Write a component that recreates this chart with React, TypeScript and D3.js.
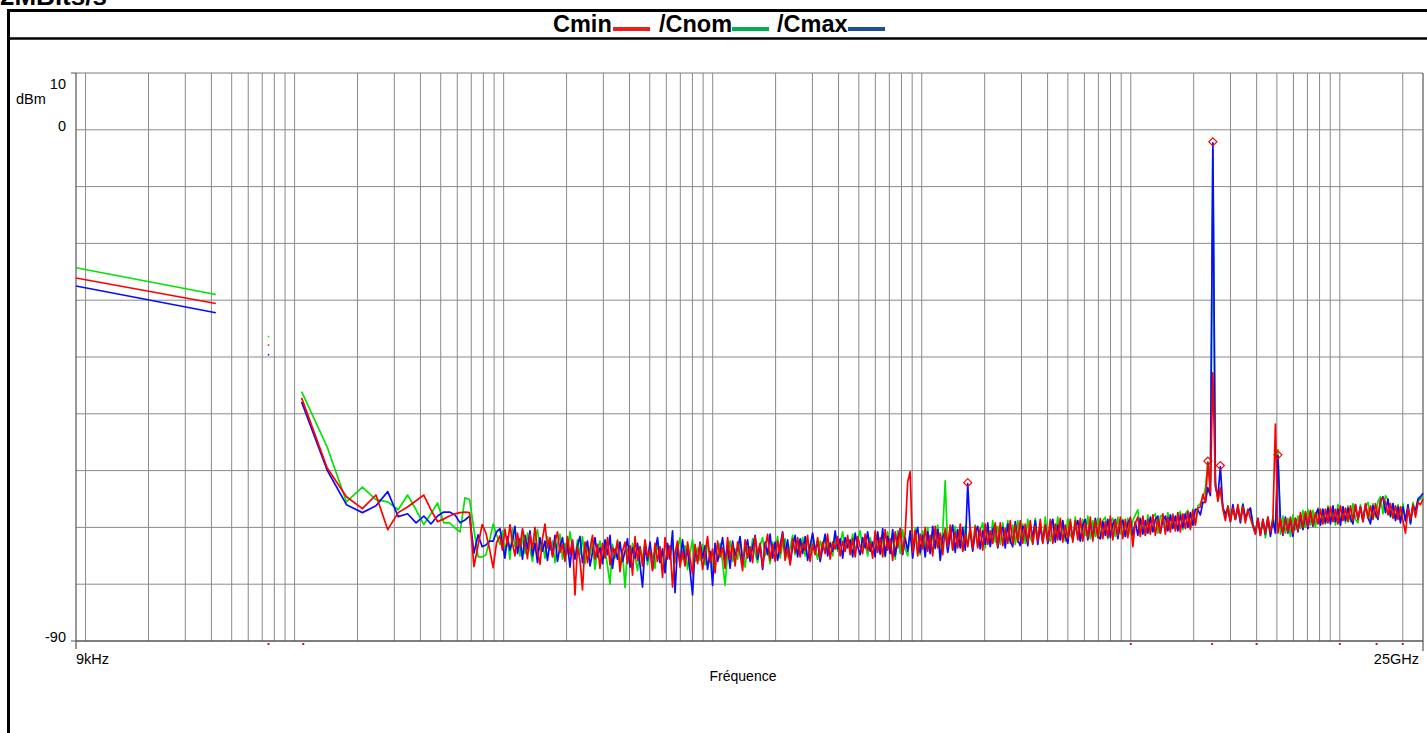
import React from 'react';
import * as d3 from 'd3';

// ---------- DATA ----------
const TITLE_PARTS = ['Cmin', '/Cnom', '/Cmax'];
const CORNER_TEXT = '2MBits/s';
const Y_TICK_LABELS = [10, 0, -90];
const Y_GRID_LEVELS = [0, -10, -20, -30, -40, -50, -60, -70, -80];
const X_START_LABEL = '9kHz';
const X_END_LABEL = '25GHz';
const X_TITLE = 'Fréquence';
const Y_UNIT = 'dBm';
const F_MIN = 9e3;
const F_MAX = 25e9;

// low band (two-point segments)
const LOW_FREQS = [9e3, 42e3];
const LOW_RED = [-26.1, -30.6];
const LOW_GREEN = [-24.3, -29.0];
const LOW_BLUE = [-27.5, -32.2];

// isolated dots
const DOT_FREQ = 75e3;
const DOT_RED = -37.9;
const DOT_GREEN = -36.4;
const DOT_BLUE = -39.6;

// sweep A (kHz)
const SWEEP_A_KHZ = [108, 143, 177, 211, 245, 279, 313, 347, 381, 415, 449, 483, 517, 551, 585, 619, 653, 687, 721, 755, 789, 823, 857, 891, 925];
const A_RED = [-47.2, -59.5, -64.6, -66.7, -64.3, -70.4, -67.4, -66.4, -65.3, -64.3, -66.9, -69.0, -68.5, -68.0, -67.6, -67.4, -67.3, -67.4, -76.9, -73.1, -69.5, -71.0, -73.9, -77.1, -72.7];
const A_GREEN = [-46.1, -55.8, -65.5, -62.9, -65.1, -65.5, -66.9, -64.3, -66.9, -69.5, -67.6, -65.7, -69.2, -69.2, -70.1, -70.8, -64.8, -65.1, -70.4, -75.2, -75.2, -74.8, -72.2, -69.4, -71.3];
const A_BLUE = [-47.9, -59.9, -66.0, -67.4, -66.2, -63.7, -68.1, -67.6, -69.2, -68.0, -69.4, -68.0, -67.3, -67.3, -67.8, -69.2, -68.7, -68.0, -74.5, -71.3, -73.4, -73.1, -72.4, -72.4, -70.8];

// sweep B (log-spaced analyzer points from 960 kHz to 25 GHz)
const SWEEP_B_START = 960e3;
const SWEEP_B_STOP = 25e9;
const B_RED = [
  -71.5, -74, -70.3, -73.2, -69.5, -72.8, -75, -71, -73.5, -70.2,
  -72.4, -75.5, -71.2, -73.8, -70, -74.2, -76.5, -72, -69.4, -73.6,
  -71.8, -75.2, -72.6, -70.8, -74.4, -73, -76, -71.6, -74.8, -72.2,
  -81.9, -73.4, -75.8, -81, -72.6, -76.2, -73.8, -71.4, -75.6, -73,
  -77.2, -72.8, -75.4, -71.8, -76.6, -73.6, -74.8, -72.4, -77.8, -74.2,
  -72.6, -76.4, -73.2, -78.4, -71.6, -75.8, -73.4, -76.8, -72.2, -75.2,
  -74, -77.6, -72.8, -76, -73.4, -78.8, -71.8, -75.6, -73.2, -80.5,
  -74.6, -72.4, -77, -74.2, -76.8, -72.6, -75.4, -78.2, -73, -76.4,
  -72.8, -77.4, -74.6, -71.6, -76.2, -73.8, -78, -72.4, -75.2, -73.6,
  -77.2, -71.8, -75.6, -73, -76.8, -72.6, -74.8, -77.6, -72.2, -75.4,
  -73.4, -76.2, -71.6, -74.8, -72.8, -77, -73.6, -71.2, -75.8, -73,
  -76, -72.4, -74.6, -71, -75.8, -73.6, -76.6, -72, -74.4, -71.8,
  -75.2, -72.8, -74, -71.4, -76, -73, -74.8, -71.8, -75.4, -72.6,
  -74.6, -71.2, -75.6, -72.6, -73.8, -71.6, -75, -72.4, -74.2, -71.4,
  -74.8, -72, -75.2, -71.6, -73.4, -74.6, -71.2, -74, -72.6, -75.4,
  -70.6, -74.4, -71.8, -75.2, -70.4, -74, -72, -75.8, -70.8, -73.6,
  -70.2, -74.6, -71, -62, -60.2, -74.4, -70.6, -75, -71.2, -73.8,
  -70, -74.2, -71.4, -75, -69.8, -73.6, -71, -74.8, -70.2, -73.4,
  -69.6, -74, -70.8, -73.6, -69.4, -74.2, -71.2, -73.4, -69.8, -73.8,
  -69.8, -73.6, -70.2, -74, -69.4, -73, -70.6, -72.8, -69.2, -73.4,
  -69.2, -73.2, -70.2, -72.8, -68.8, -73, -69.6, -72.6, -68.8, -72.8,
  -69.4, -72.6, -68.8, -73, -69.8, -72.4, -68.6, -72.8, -69.6, -72.4,
  -68.6, -72.8, -69.4, -72.2, -68.4, -72.6, -69.6, -72, -68.6, -72.6,
  -68.8, -72.2, -68.4, -72.4, -69.2, -71.8, -68.2, -72.4, -68.8, -71.8,
  -68.4, -72, -69, -71.8, -68, -72.2, -68.8, -71.4, -68.2, -72,
  -68.6, -71.8, -68.2, -73.4, -69.2, -68.2, -71.6, -68, -71.4, -68.6,
  -71.2, -67.8, -71.4, -68.4, -71, -67.6, -71.2, -68.2, -70.8, -67.8,
  -70.6, -67.4, -70.8, -67.6, -70.2, -67.2, -70.4, -67, -69.6, -66.6,
  -66.4, -64.2, -65.6, -58.5, -63.8, -42.8, -62, -65.4, -63, -66.8,
  -68.8, -66.2, -69, -66.6, -68.6, -66, -68.8, -66.4, -69.2, -66.8,
  -68.4, -69.8, -71.2, -68.4, -71.4, -68.6, -71, -68.2, -70.8, -68.6,
  -51.8, -71, -68.4, -71.2, -68.6, -70.8, -68.2, -71, -68.4, -70.6,
  -67.4, -70, -67.2, -69.8, -67, -69.6, -67.4, -69.4, -66.8, -69.4,
  -66.8, -69.2, -66.4, -69, -66.8, -69.4, -66.2, -68.8, -66.6, -69,
  -66.2, -68.8, -66, -68.6, -66.4, -69, -65.8, -68.4, -66.2, -68.6,
  -65.8, -68.2, -65.2, -64.8, -65.6, -67.8, -65.8, -68.4, -66.2, -68.6,
  -66.4, -68.8, -71, -66.6, -68.6, -66, -68.2, -65.6, -66, -65,
];
const B_GREEN = [
  -73, -70.6, -74.4, -71.8, -75.6, -70.2, -73.4, -72, -75, -71.4,
  -74.6, -71, -73.8, -76, -72.2, -70.4, -74, -72.6, -75.4, -71.6,
  -74, -72.4, -76.2, -73, -71.2, -75.6, -72.8, -74.6, -70.8, -73.8,
  -75.4, -72.2, -74.8, -71.6, -76.4, -73.2, -75, -72.6, -77.4, -74,
  -72.4, -75.8, -73.6, -76.8, -80, -73, -75.4, -72.2, -76.2, -74.4,
  -80.6, -73.8, -76.4, -72.8, -75.2, -77.6, -73.4, -75.8, -72.6, -76.6,
  -73.6, -75, -77.2, -72.4, -76, -74.2, -77.8, -73, -75.4, -72.8,
  -76.2, -74, -71.8, -75.6, -73.2, -77.4, -74.4, -72.2, -76, -73.6,
  -75.8, -73, -76.6, -72.6, -74.8, -77, -73.4, -75.6, -72.8, -76.2,
  -80.2, -74.6, -72.4, -76, -73.8, -75.6, -72.2, -74.8, -77, -73.4,
  -75.6, -72, -74.4, -76.2, -73.2, -71.8, -75, -73.8, -76.4, -72.6,
  -74.2, -71.6, -75.4, -73, -72, -75.2, -73.6, -71.4, -74.8, -72.8,
  -73.8, -71.8, -75, -72.2, -74.4, -71.2, -73.6, -75.6, -72.4, -74,
  -71.4, -73.8, -72.6, -75, -71.8, -74.2, -72.8, -70.8, -74, -72.4,
  -73.6, -71.2, -74.4, -72.2, -70.6, -73.8, -72.8, -75, -71.8, -73.4,
  -74.4, -71, -74.8, -71.6, -75.2, -70.8, -74, -71.4, -75.6, -70.6,
  -74.6, -70.4, -73.8, -75, -70.8, -74.2, -70.2, -73.6, -74.8, -70.6,
  -73.8, -70, -74.4, -71, -73.8, -69.6, -74, -70.8, -61.8, -73.6,
  -70.4, -74, -69.8, -73.4, -70.6, -74.2, -69.8, -73.2, -70.2, -73.8,
  -69.6, -73.4, -70.4, -69.2, -73.6, -70, -73.2, -68.8, -72.6, -69.8,
  -73, -69.2, -72.6, -68.8, -72.8, -69.6, -73, -68.8, -72.2, -69.4,
  -72.8, -68.6, -71.8, -72.8, -68.4, -72.2, -69.2, -72.6, -68.2, -71.8,
  -72.4, -68.6, -71.8, -68.2, -72.2, -69, -72.4, -68.4, -71.4, -72,
  -68.2, -71.6, -72.2, -68.6, -71.4, -68, -72, -68.8, -71.6, -68.4,
  -71.8, -68.8, -68.2, -72, -69, -68.4, -71.6, -68.2, -71.2, -68.6,
  -71.6, -68.4, -71.2, -68.8, -67.8, -66.9, -71, -68.2, -71.4, -67.8,
  -70.8, -68.2, -67.6, -71, -68, -67.8, -70.6, -67.4, -70.4, -67.6,
  -70.2, -67.8, -67.2, -70.4, -67.6, -67, -70, -66.8, -69.4, -66.2,
  -65.8, -64.8, -63.2, -58.5, -61.8, -3.5, -62.4, -64.8, -63.6, -66.4,
  -68.2, -66.2, -68, -66.6, -68.6, -66.4, -68.4, -65.8, -68.6, -67,
  -66.6, -69.4, -70.6, -68.6, -71, -69, -71.8, -68.6, -71.2, -68,
  -70.6, -56.3, -71.2, -68, -71, -68.4, -71.6, -67.8, -70.4, -68,
  -70.2, -67, -70, -66.8, -69.6, -67, -70, -66.6, -69.4, -66.8,
  -69.4, -66.2, -69, -66.6, -69.6, -66, -68.8, -66.4, -69.2, -66.2,
  -69, -65.8, -68.6, -69.2, -66, -68.8, -66.2, -65.6, -68.8, -65.8,
  -68.2, -65.4, -64.6, -67.6, -64.4, -65.2, -68.2, -65.8, -68.6, -66,
  -68.4, -65.8, -69, -66.4, -69.2, -65.6, -67.8, -65.4, -65, -64.6,
];
const B_BLUE = [
  -70.2, -72.8, -75.4, -71.6, -74, -72.4, -69.8, -74.6, -72, -75.6,
  -71.4, -73.8, -70.6, -75, -72.8, -76.2, -71.8, -74.2, -72.4, -75.8,
  -72.6, -74.8, -71.4, -76, -73.4, -71.8, -75.4, -73, -77, -72.4,
  -75.6, -73.2, -71.6, -76.2, -74, -72.4, -76.8, -74.4, -71.8, -75.2,
  -73.6, -76.4, -72.2, -74.8, -71.4, -77.2, -73.8, -75.6, -72.6, -76,
  -74.2, -72, -77, -73.6, -75.4, -72.8, -76.6, -80.5, -73.4, -75.8,
  -72.6, -77.4, -74, -71.8, -76.2, -73.8, -78, -72.8, -75.6, -70.6,
  -81.5, -73.2, -76.4, -72.2, -75.8, -74, -77.6, -81.9, -73.6, -76,
  -72.6, -75.4, -73.2, -77.4, -74.2, -80.2, -72.8, -76, -74.4, -71.8,
  -75.8, -73.4, -77.2, -72.4, -75, -73.8, -71.6, -76.4, -74, -72.2,
  -76, -73.4, -71.4, -75.6, -73, -77.4, -72.6, -74.8, -71.2, -75.4,
  -72.6, -75.8, -73.2, -70.8, -74.6, -72.2, -76.4, -73.4, -71.4, -75.2,
  -72, -74.6, -71.6, -75.8, -73.2, -71, -74.4, -72.4, -76, -73.6,
  -71.2, -75, -72.8, -74.2, -70.6, -73.8, -72, -75.4, -71.8, -73.6,
  -72.2, -75.2, -71, -73.4, -74.8, -71.8, -73.6, -70.8, -74.2, -72.6,
  -75.2, -70.8, -74.6, -70.2, -75, -71.6, -74.6, -70.4, -75, -72,
  -70.2, -74.8, -71.8, -74.2, -70.6, -75.4, -71.6, -70, -74.4, -71.4,
  -75.2, -70.8, -74.6, -69.8, -73.6, -70.4, -75.8, -71.8, -70.6, -74.4,
  -71.6, -69.6, -74.4, -70.4, -73.6, -70, -74, -62.3, -70.8, -74.2,
  -71, -69.8, -73.8, -70.6, -73, -69.2, -73.4, -70.4, -69.6, -73.6,
  -70.4, -70, -73.6, -69.4, -72.4, -73.4, -69, -72.2, -73.2, -69.8,
  -70.4, -73.2, -69.4, -71.8, -68.8, -73, -69.8, -72.6, -69.6, -72.8,
  -69.8, -68.6, -72.6, -69.6, -72.2, -68.8, -71.6, -72.8, -69, -72,
  -70, -68.8, -72.4, -69.6, -68.6, -72.2, -69.2, -71.8, -68.4, -71.6,
  -72, -69, -71.4, -68.6, -71.8, -69.4, -68.6, -72, -69.2, -68.8,
  -71.6, -69.2, -68.4, -71.4, -69, -71.4, -68.4, -71.2, -68.8, -71,
  -68.2, -70.8, -68.6, -68, -71, -68.8, -68, -70.6, -67.8, -70.2,
  -68, -70.6, -67.8, -70, -67.6, -70, -67.4, -69.6, -66.8, -66.9,
  -67.8, -65.6, -65.6, -63, -64.4, -2.3, -62.8, -64.6, -59.3, -66.6,
  -67.6, -66.8, -69, -66, -68.6, -66.4, -69.2, -66, -68.4, -67.4,
  -66.6, -69.6, -71, -68.4, -71.4, -68.6, -71.2, -68.2, -71.6, -68.8,
  -71, -57.4, -68.8, -71.4, -68.2, -71, -68.6, -71.6, -68.4, -70.8,
  -68, -70.4, -67.6, -70.2, -67.2, -69.8, -67.8, -66.8, -69.6, -66.8,
  -69.2, -66.6, -69.4, -66.2, -69, -66.8, -69.6, -66.4, -68.8, -66.6,
  -68.4, -69.4, -66, -68.6, -66.4, -69, -66, -68.2, -69.4, -66.2,
  -67.6, -68.6, -65.4, -64.6, -67.4, -65, -68, -65.8, -68.8, -66.4,
  -69.2, -66.4, -68.8, -66, -69.4, -66.2, -67, -65, -64.6, -64,
];

// peak markers: series + sample index within sweep B
const MARKERS: { series: 'red' | 'green' | 'blue'; idx: number }[] = [
  { series: 'blue', idx: 187 },
  { series: 'green', idx: 283 },
  { series: 'blue', idx: 285 },
  { series: 'blue', idx: 288 },
  { series: 'blue', idx: 311 },
];

// band-boundary marks under the axis (Hz)
const BAND_MARKS_HZ = [75e3, 110e3, 1e9, 2.45e9, 4e9, 10e9, 15e9, 20e9];

// ---------- STYLE ----------
const COLORS = { red: '#ff0000', green: '#00e400', blue: '#0a0aff' };
const LEGEND_COLORS = ['#f21c1c', '#00b050', '#1f4e8c'];
const PLOT = { left: 76, right: 1423, top: 73, bottom: 641 };
const FONT = 'Arial, "Liberation Sans", Helvetica, sans-serif';

export default function App() {
  const x = d3.scaleLog().domain([F_MIN, F_MAX]).range([PLOT.left, PLOT.right]);
  const y = d3.scaleLinear().domain([-90, 10]).range([PLOT.bottom, PLOT.top]);

  const nB = B_RED.length;
  const sweepB = d3.range(nB).map((i) => SWEEP_B_START * Math.pow(SWEEP_B_STOP / SWEEP_B_START, i / (nB - 1)));
  const sweepA = SWEEP_A_KHZ.map((k) => k * 1e3);

  const line = d3
    .line<[number, number]>()
    .x((d) => x(d[0]))
    .y((d) => y(d[1]));

  const series = {
    green: { low: LOW_GREEN, dot: DOT_GREEN, a: A_GREEN, b: B_GREEN },
    blue: { low: LOW_BLUE, dot: DOT_BLUE, a: A_BLUE, b: B_BLUE },
    red: { low: LOW_RED, dot: DOT_RED, a: A_RED, b: B_RED },
  } as const;
  const order: ('green' | 'blue' | 'red')[] = ['green', 'blue', 'red'];

  // gridlines
  const vGrid: number[] = [];
  for (let p = 3; p <= 10; p++) {
    for (let k = 1; k <= 9; k++) {
      const f = k * Math.pow(10, p);
      if (f > F_MIN * 1.0001 && f < F_MAX * 0.9999) vGrid.push(f);
    }
  }

  // title layout
  const titleX = [553, 659, 777];
  const legendSeg = [
    [613, 650],
    [732, 769],
    [848, 885],
  ];
  const yLabelBaseline: Record<number, number> = { 10: 89, 0: 131, [-90]: 642 };

  return (
    <svg
      width={1427}
      height={733}
      style={{ position: 'absolute', left: 0, top: 0, background: '#fff', fontFamily: FONT }}
    >
      <rect x={0} y={0} width={1427} height={733} fill="#fff" />
      <text x={0} y={5} fontSize={26} fontWeight="bold" fill="#000">
        {CORNER_TEXT}
      </text>
      {/* frame */}
      <rect x={8.5} y={10.5} width={1440} height={740} fill="none" stroke="#000" strokeWidth={3} />
      <line x1={8} x2={1427} y1={38.5} y2={38.5} stroke="#000" strokeWidth={2.5} />

      {/* title with legend */}
      {TITLE_PARTS.map((t, i) => (
        <g key={t}>
          <text x={titleX[i]} y={32} fontSize={23.5} fontWeight="bold" fill="#000">
            {t}
          </text>
          <line
            x1={legendSeg[i][0]}
            x2={legendSeg[i][1]}
            y1={29}
            y2={29}
            stroke={LEGEND_COLORS[i]}
            strokeWidth={4}
          />
        </g>
      ))}

      {/* grid */}
      {vGrid.map((f) => (
        <line key={f} x1={x(f)} x2={x(f)} y1={PLOT.top} y2={PLOT.bottom} stroke="#8a8a8a" strokeWidth={1} />
      ))}
      {Y_GRID_LEVELS.map((v) => (
        <line key={v} x1={PLOT.left} x2={PLOT.right} y1={y(v)} y2={y(v)} stroke="#8a8a8a" strokeWidth={1} />
      ))}
      <line x1={PLOT.left} x2={PLOT.right} y1={y(10)} y2={y(10)} stroke="#7a7a7a" strokeWidth={1} />
      {/* axes */}
      <line x1={PLOT.left} x2={PLOT.left} y1={PLOT.top} y2={PLOT.bottom + 8} stroke="#555" strokeWidth={1.2} />
      <line x1={PLOT.right} x2={PLOT.right} y1={PLOT.top} y2={PLOT.bottom + 10} stroke="#555" strokeWidth={1.2} />
      <line x1={PLOT.left} x2={PLOT.right} y1={PLOT.bottom} y2={PLOT.bottom} stroke="#555" strokeWidth={1.5} />
      {Y_TICK_LABELS.filter((v) => v !== 0).map((v) => (
        <line key={'t' + v} x1={PLOT.left - 5} x2={PLOT.left} y1={y(v)} y2={y(v)} stroke="#555" strokeWidth={1} />
      ))}

      {/* y labels */}
      {Y_TICK_LABELS.map((v) => (
        <text key={'l' + v} x={66} y={yLabelBaseline[v]} fontSize={14.5} textAnchor="end" fill="#000">
          {v}
        </text>
      ))}
      <text x={16} y={104} fontSize={14.5} fill="#000">
        {Y_UNIT}
      </text>

      {/* x labels */}
      <text x={PLOT.left} y={664} fontSize={14.5} fill="#000">
        {X_START_LABEL}
      </text>
      <text x={PLOT.right - 4} y={664} fontSize={14.5} textAnchor="end" fill="#000">
        {X_END_LABEL}
      </text>
      <text x={743} y={681} fontSize={14} textAnchor="middle" fill="#000">
        {X_TITLE}
      </text>

      {/* band marks */}
      {BAND_MARKS_HZ.map((f) => (
        <rect key={f} x={x(f) - 1} y={PLOT.bottom + 2} width={2} height={2} fill="#c8103c" />
      ))}

      {/* traces */}
      {order.map((k) => {
        const s = series[k];
        const low: [number, number][] = LOW_FREQS.map((f, i) => [f, s.low[i]]);
        const main: [number, number][] = [
          ...sweepA.map((f, i) => [f, s.a[i]] as [number, number]),
          ...sweepB.map((f, i) => [f, s.b[i]] as [number, number]),
        ];
        return (
          <g key={k} fill="none" stroke={COLORS[k]} strokeLinejoin="round">
            <path d={line(low) || ''} strokeWidth={1.5} />
            <path d={line(main) || ''} strokeWidth={1.7} />
            <rect x={x(DOT_FREQ) - 0.75} y={y(s.dot) - 0.75} width={1.5} height={1.5} fill={COLORS[k]} stroke="none" />
          </g>
        );
      })}

      {/* markers */}
      {MARKERS.map((m, i) => {
        const cx = x(sweepB[m.idx]);
        const cy = y(series[m.series].b[m.idx]) - 1;
        const r = 4;
        return (
          <path
            key={i}
            d={`M${cx},${cy - r}L${cx + r},${cy}L${cx},${cy + r}L${cx - r},${cy}Z`}
            fill="none"
            stroke="#ff0000"
            strokeWidth={1.2}
          />
        );
      })}
    </svg>
  );
}
